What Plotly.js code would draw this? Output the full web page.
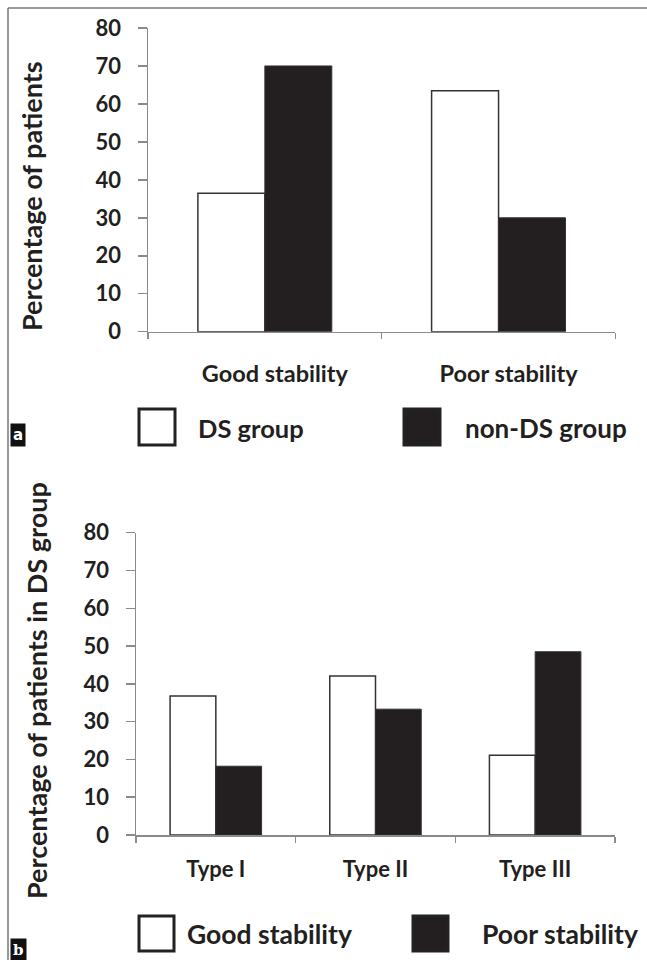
<!DOCTYPE html>
<html>
<head>
<meta charset="utf-8">
<script src="https://cdn.plot.ly/plotly-3.0.1.min.js"></script>
<style>html,body{margin:0;padding:0;background:#fff;}#chart{width:647px;height:960px;}</style>
</head>
<body>
<div id="chart"></div>
<script>
// ---- Data ----
const stabilityCategories = ["Good stability", "Poor stability"];
const dsGroupValues = [36.5, 63.5];
const nonDsGroupValues = [70, 30];
const seriesNamesA = ["DS group", "non-DS group"];

const typeCategories = ["Type I", "Type II", "Type III"];
const goodStabilityValues = [36.8, 42.1, 21.1];
const poorStabilityValues = [18.2, 33.3, 48.5];
const seriesNamesB = ["Good stability", "Poor stability"];

const yTickValues = [0, 10, 20, 30, 40, 50, 60, 70, 80];
const yTitleA = "Percentage of patients";
const yTitleB = "Percentage of patients in DS group";

// ---- Helpers ----
const W = 647, H = 960;
const px = x => x / W;
const py = y => 1 - y / H;
const FONT = "Lato";
const TXT = "#231f20";
const AX = "#8a8a8a";
const WHITE = "#ffffff", BLACK = "#231f20", EDGE = "#333333";

const traces = [
  {type: "bar", x: stabilityCategories, y: dsGroupValues, name: seriesNamesA[0], xaxis: "x", yaxis: "y",
   marker: {color: WHITE, line: {color: EDGE, width: 1.5}}},
  {type: "bar", x: stabilityCategories, y: nonDsGroupValues, name: seriesNamesA[1], xaxis: "x", yaxis: "y",
   marker: {color: BLACK, line: {color: EDGE, width: 1}}},
  {type: "bar", x: typeCategories, y: goodStabilityValues, name: seriesNamesB[0], xaxis: "x2", yaxis: "y2",
   marker: {color: WHITE, line: {color: EDGE, width: 1.5}}},
  {type: "bar", x: typeCategories, y: poorStabilityValues, name: seriesNamesB[1], xaxis: "x2", yaxis: "y2",
   marker: {color: BLACK, line: {color: EDGE, width: 1}}}
];

const xCommon = {
  type: "category", showline: true, linecolor: AX, linewidth: 1.5,
  ticks: "outside", tickson: "boundaries", ticklen: 6, tickcolor: AX, tickwidth: 1.5,
  showgrid: false, zeroline: false, fixedrange: true
};
const yCommon = {
  range: [0, 80], tickvals: yTickValues, showline: true, linecolor: AX, linewidth: 1.5,
  ticks: "outside", ticklen: 9, tickcolor: AX, tickwidth: 1.5,
  showgrid: false, zeroline: false, fixedrange: true,
  tickfont: {family: FONT, size: 22, color: TXT, weight: "bold"}
};

function legendItem(x0, y0, size, fill, label, tx, ty, fs) {
  return {
    shape: {type: "rect", xref: "paper", yref: "paper",
      x0: px(x0), x1: px(x0 + size), y0: py(y0 + size), y1: py(y0),
      fillcolor: fill, line: {color: "#222", width: 3}},
    ann: {xref: "paper", yref: "paper", x: px(tx), y: py(ty), xanchor: "left", yanchor: "middle",
      text: label, showarrow: false, font: {family: FONT, size: fs, color: TXT, weight: "bold"}}
  };
}

const legA1 = legendItem(139, 409, 36, WHITE, seriesNamesA[0], 196, 428, 25.5);
const legA2 = legendItem(404, 409, 36, BLACK, seriesNamesA[1], 463, 428, 26);
const legB1 = legendItem(139, 916, 35, WHITE, seriesNamesB[0], 185, 934, 26.5);
const legB2 = legendItem(413, 916, 35, BLACK, seriesNamesB[1], 480, 934, 26.5);

const layout = {
  width: W, height: H, margin: {l: 0, r: 0, t: 0, b: 0},
  paper_bgcolor: "#fff", plot_bgcolor: "#fff",
  showlegend: false, barmode: "group", bargap: 0.427, bargroupgap: 0,
  xaxis: Object.assign({}, xCommon, {domain: [px(148), px(615.4)], anchor: "y", ticklabelstandoff: 21,
    ticklabelshift: 10, tickfont: {family: FONT, size: 23.5, color: TXT, weight: "bold"}}),
  yaxis: Object.assign({}, yCommon, {domain: [py(331.7), py(28)], anchor: "x", ticklabelstandoff: 12}),
  xaxis2: Object.assign({}, xCommon, {domain: [px(136), px(615)], anchor: "y2", ticklabelstandoff: 14,
    tickfont: {family: FONT, size: 22, color: TXT, weight: "bold"}}),
  yaxis2: Object.assign({}, yCommon, {domain: [py(835), py(532.7)], anchor: "x2", ticklabelstandoff: 12}),
  shapes: [
    {type: "line", xref: "paper", yref: "paper", x0: px(8), x1: px(647), y0: py(8), y1: py(8), line: {color: "#777", width: 1.5}},
    {type: "line", xref: "paper", yref: "paper", x0: px(8), x1: px(8), y0: py(8), y1: py(960), line: {color: "#777", width: 1.5}},
    legA1.shape, legA2.shape, legB1.shape, legB2.shape
  ],
  annotations: [
    {xref: "paper", yref: "paper", x: px(32), y: py(196), textangle: -90, text: yTitleA, showarrow: false,
     xanchor: "center", yanchor: "middle", font: {family: FONT, size: 27, color: TXT, weight: "bold"}},
    {xref: "paper", yref: "paper", x: px(36), y: py(691), textangle: -90, text: yTitleB, showarrow: false,
     xanchor: "center", yanchor: "middle", font: {family: FONT, size: 27, color: TXT, weight: "bold"}},
    {xref: "paper", yref: "paper", x: px(10), y: py(435), text: "a", showarrow: false, xanchor: "left", yanchor: "middle",
     bgcolor: "#111", borderpad: 2, font: {family: "DejaVu Sans", size: 15, color: "#fff", weight: "bold"}},
    {xref: "paper", yref: "paper", x: px(10), y: py(950), text: "b", showarrow: false, xanchor: "left", yanchor: "middle",
     bgcolor: "#111", borderpad: 2, font: {family: "DejaVu Serif", size: 15, color: "#fff", weight: "bold"}},
    legA1.ann, legA2.ann, legB1.ann, legB2.ann
  ]
};

Plotly.newPlot("chart", traces, layout, {displayModeBar: false, staticPlot: true});
</script>
</body>
</html>
